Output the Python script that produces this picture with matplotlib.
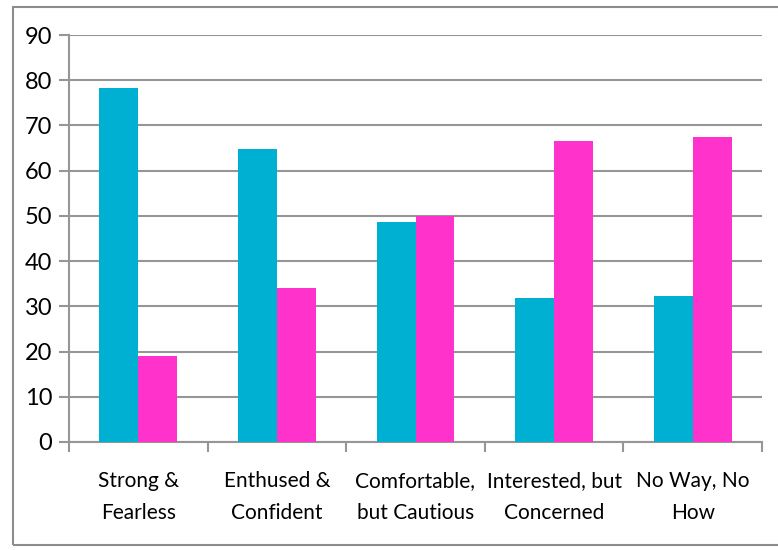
import matplotlib.pyplot as plt
import numpy as np
from matplotlib.patches import Rectangle

categories = ['Strong &\nFearless', 'Enthused &\nConfident', 'Comfortable,\nbut Cautious',
              'Interested, but\nConcerned', 'No Way, No\nHow']
series_a = [78.3, 64.8, 48.7, 31.9, 32.3]   # cyan
series_b = [19.1, 34.1, 50.0, 66.6, 67.5]   # magenta

CYAN = '#00B0D2'
MAGENTA = '#FF33CC'
GRID = '#969696'

plt.rcParams['font.family'] = ['Lato', 'DejaVu Sans']

fig = plt.figure(figsize=(7.78, 5.5), dpi=100)
ax = fig.add_axes([69 / 778, 1 - 442 / 550, 693 / 778, 407 / 550])

x = np.arange(len(categories))
w = 0.28
ax.bar(x - w / 2, series_a, w, color=CYAN, zorder=3)
ax.bar(x + w / 2, series_b, w, color=MAGENTA, zorder=3)

ax.set_xlim(-0.5, len(categories) - 0.5)
ax.set_ylim(0, 90)
ax.set_yticks(range(0, 91, 10))
ax.yaxis.grid(True, color=GRID, linewidth=1.5, zorder=0)

# category labels between boundary ticks
ax.set_xticks(np.arange(-0.5, len(categories), 1))
ax.set_xticklabels([])
ax.set_xticks(x, minor=True)
ax.set_xticklabels(categories, minor=True, fontsize=15, linespacing=1.75)
ax.tick_params(axis='x', which='minor', length=0, pad=21)
ax.tick_params(axis='x', which='major', length=7, width=1.5, color=GRID, direction='out')
ax.tick_params(axis='y', length=7, width=1.5, color=GRID, labelsize=17, pad=5)

for s in ['top', 'right']:
    ax.spines[s].set_visible(False)
for s in ['left', 'bottom']:
    ax.spines[s].set_color(GRID)
    ax.spines[s].set_linewidth(1.5)

# outer chart border
fig.patches.append(Rectangle((13 / 778, 1 - 545 / 550), 1, 538 / 550,
                             transform=fig.transFigure, fill=False,
                             edgecolor='#8c8c8c', linewidth=1.5))

fig.savefig('out.png', dpi=100)
